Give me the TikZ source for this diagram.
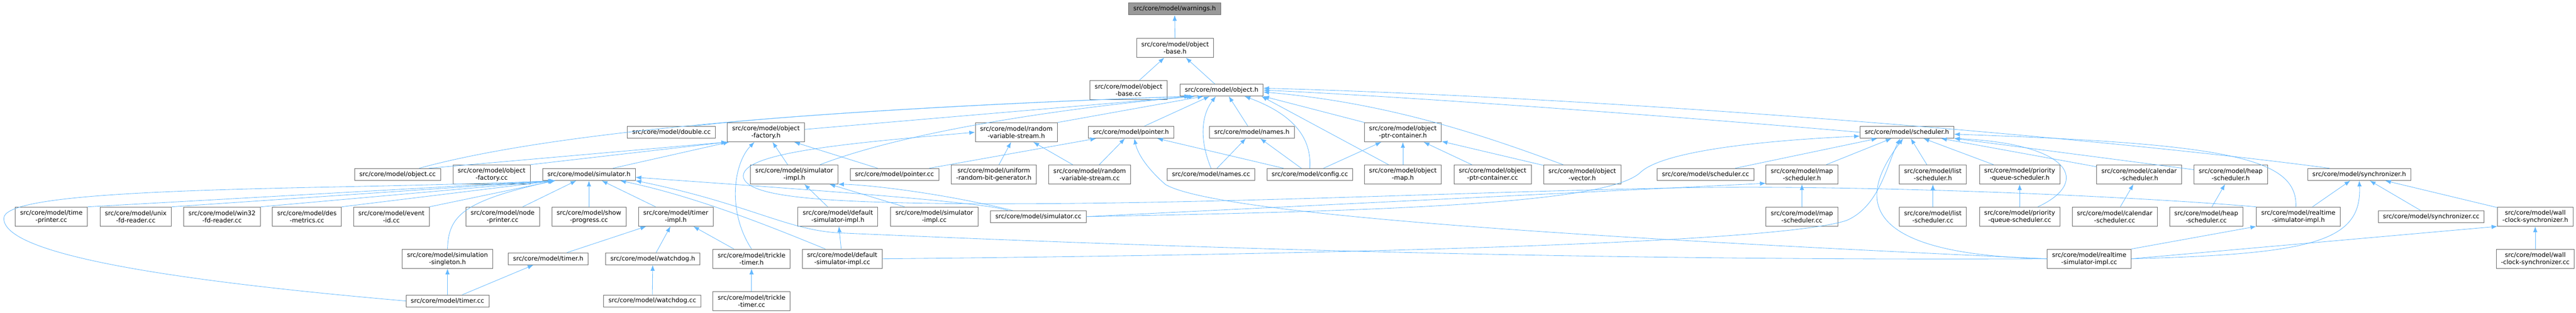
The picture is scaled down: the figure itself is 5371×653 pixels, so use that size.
\documentclass[tikz,border=0pt]{standalone}
\usepackage{fontspec}
\setmainfont{DejaVu Sans}
\usepackage{tikz}
\usetikzlibrary{arrows.meta}
\definecolor{boxline}{HTML}{666666}
\definecolor{hilite}{HTML}{999999}
\definecolor{edgeblue}{HTML}{63B8FF}
\tikzset{srcbox/.style={draw=boxline,fill=white,line width=0.9pt,font=\fontsize{13}{15}\selectfont,align=center,inner xsep=10pt,inner ysep=2pt,minimum height=25pt},twoline/.style={minimum height=40pt},curbox/.style={srcbox,fill=hilite},incl/.style={draw=edgeblue,line width=0.9pt,-{Latex[length=12pt,width=9pt]}}}
\begin{document}
\begin{tikzpicture}[x=1pt,y=-1pt]
\useasboundingbox (0,0) rectangle (5371,653);
\node[curbox] (warn) at (2449,18.5) {src/core/model/warnings.h};
\node[srcbox,twoline] (objbaseh) at (2450,100) {src/core/model/object\\-base.h};
\node[srcbox,twoline] (objbasecc) at (2353,188) {src/core/model/object\\-base.cc};
\node[srcbox] (objecth) at (2547,188) {src/core/model/object.h};
\node[srcbox] (doublecc) at (1400,276) {src/core/model/double.cc};
\node[srcbox,twoline] (objfacth) at (1597,276) {src/core/model/object\\-factory.h};
\node[srcbox,twoline] (rvsh) at (2119,276) {src/core/model/random\\-variable-stream.h};
\node[srcbox] (pointerh) at (2358,276) {src/core/model/pointer.h};
\node[srcbox] (namesh) at (2610,276) {src/core/model/names.h};
\node[srcbox,twoline] (objptrh) at (2925,276) {src/core/model/object\\-ptr-container.h};
\node[srcbox] (schedh) at (3976,276) {src/core/model/scheduler.h};
\node[srcbox] (objectcc) at (829,364) {src/core/model/object.cc};
\node[srcbox,twoline] (objfactcc) at (1025,364) {src/core/model/object\\-factory.cc};
\node[srcbox] (simh) at (1228,364) {src/core/model/simulator.h};
\node[srcbox,twoline] (simimplh) at (1656,364) {src/core/model/simulator\\-impl.h};
\node[srcbox] (pointercc) at (1865,364) {src/core/model/pointer.cc};
\node[srcbox,twoline] (urbgh) at (2072,364) {src/core/model/uniform\\-random-bit-generator.h};
\node[srcbox,twoline] (rvscc) at (2272,364) {src/core/model/random\\-variable-stream.cc};
\node[srcbox] (namescc) at (2525,364) {src/core/model/names.cc};
\node[srcbox] (configcc) at (2731,364) {src/core/model/config.cc};
\node[srcbox,twoline] (objmaph) at (2925,364) {src/core/model/object\\-map.h};
\node[srcbox,twoline] (objptrcc) at (3112,364) {src/core/model/object\\-ptr-container.cc};
\node[srcbox,twoline] (objvech) at (3299,364) {src/core/model/object\\-vector.h};
\node[srcbox] (schedcc) at (3556,364) {src/core/model/scheduler.cc};
\node[srcbox,twoline] (mapschedh) at (3757,364) {src/core/model/map\\-scheduler.h};
\node[srcbox,twoline] (listschedh) at (4030,364) {src/core/model/list\\-scheduler.h};
\node[srcbox,twoline] (pqschedh) at (4211,364) {src/core/model/priority\\-queue-scheduler.h};
\node[srcbox,twoline] (calschedh) at (4460,364) {src/core/model/calendar\\-scheduler.h};
\node[srcbox,twoline] (heapschedh) at (4651,364) {src/core/model/heap\\-scheduler.h};
\node[srcbox] (synch) at (4919,364) {src/core/model/synchronizer.h};
\node[srcbox,twoline] (timeprcc) at (107,452) {src/core/model/time\\-printer.cc};
\node[srcbox,twoline] (unixcc) at (283,452) {src/core/model/unix\\-fd-reader.cc};
\node[srcbox,twoline] (win32cc) at (463,452) {src/core/model/win32\\-fd-reader.cc};
\node[srcbox,twoline] (desmcc) at (640,452) {src/core/model/des\\-metrics.cc};
\node[srcbox,twoline] (eventidcc) at (816,452) {src/core/model/event\\-id.cc};
\node[srcbox,twoline] (nodeprcc) at (1048,452) {src/core/model/node\\-printer.cc};
\node[srcbox,twoline] (showprcc) at (1228,452) {src/core/model/show\\-progress.cc};
\node[srcbox,twoline] (timerimplh) at (1409,452) {src/core/model/timer\\-impl.h};
\node[srcbox,twoline] (defimplh) at (1747,452) {src/core/model/default\\-simulator-impl.h};
\node[srcbox,twoline] (simimplcc) at (1948,452) {src/core/model/simulator\\-impl.cc};
\node[srcbox] (simcc) at (2165,452) {src/core/model/simulator.cc};
\node[srcbox,twoline] (mapschedcc) at (3757,452) {src/core/model/map\\-scheduler.cc};
\node[srcbox,twoline] (listschedcc) at (4030,452) {src/core/model/list\\-scheduler.cc};
\node[srcbox,twoline] (pqschedcc) at (4211,452) {src/core/model/priority\\-queue-scheduler.cc};
\node[srcbox,twoline] (calschedcc) at (4409,452) {src/core/model/calendar\\-scheduler.cc};
\node[srcbox,twoline] (heapschedcc) at (4600,452) {src/core/model/heap\\-scheduler.cc};
\node[srcbox,twoline] (rtimplh) at (4792,452) {src/core/model/realtime\\-simulator-impl.h};
\node[srcbox] (synccc) at (5069,452) {src/core/model/synchronizer.cc};
\node[srcbox,twoline] (wallh) at (5286,452) {src/core/model/wall\\-clock-synchronizer.h};
\node[srcbox,twoline] (singletonh) at (933,540) {src/core/model/simulation\\-singleton.h};
\node[srcbox] (timerh) at (1143,540) {src/core/model/timer.h};
\node[srcbox] (watchdogh) at (1361,540) {src/core/model/watchdog.h};
\node[srcbox,twoline] (trickleh) at (1567,540) {src/core/model/trickle\\-timer.h};
\node[srcbox,twoline] (defimplcc) at (1756,540) {src/core/model/default\\-simulator-impl.cc};
\node[srcbox,twoline] (rtimplcc) at (4356,540) {src/core/model/realtime\\-simulator-impl.cc};
\node[srcbox,twoline] (wallcc) at (5286,540) {src/core/model/wall\\-clock-synchronizer.cc};
\node[srcbox] (timercc) at (933,628) {src/core/model/timer.cc};
\node[srcbox] (watchdogcc) at (1360,628) {src/core/model/watchdog.cc};
\node[srcbox,twoline] (tricklecc) at (1567,628) {src/core/model/trickle\\-timer.cc};
\draw[incl] (objbaseh) -- (warn);
\draw[incl] (objbasecc) -- (objbaseh);
\draw[incl] (objecth) -- (objbaseh);
\draw[incl] ([xshift=-45pt]objectcc.north east) .. controls (1150,275) and (1700,228) .. ([xshift=-66pt]objecth.south);
\draw[incl] ([xshift=-45pt]doublecc.north east) .. controls (1650,238) and (2150,212) .. ([xshift=-64pt]objecth.south);
\draw[incl] ([yshift=6pt]objfacth.east) -- ([xshift=-60pt]objecth.south);
\draw[incl] ([xshift=54pt]simimplh.north) .. controls (1900,270) and (2250,222) .. ([xshift=-56pt]objecth.south);
\draw[incl] (rvsh.north east) -- ([xshift=-38pt]objecth.south);
\draw[incl] (pointerh) -- ([xshift=-25pt]objecth.south);
\draw[incl] (namescc.north) .. controls (2500,290) and (2505,240) .. ([xshift=-12pt]objecth.south);
\draw[incl] (namesh) -- ([xshift=15pt]objecth.south);
\draw[incl] (configcc.north) .. controls (2735,290) and (2700,240) .. ([xshift=48pt]objecth.south);
\draw[incl] ([xshift=-80pt]objptrh.north) -- (objecth.south east);
\draw[incl] ([xshift=-30pt]objmaph.north) -- ([xshift=-4pt]objecth.south east);
\draw[incl] ([xshift=-40pt]objvech.north) .. controls (3100,285) and (2900,215) .. ([yshift=-4pt]objecth.east);
\draw[incl] (schedh.west) .. controls (3600,252) and (3000,205) .. (objecth.east);
\draw[incl] ([xshift=-62pt]synch.north) .. controls (4400,290) and (3400,205) .. ([yshift=4pt]objecth.east);
\draw[incl] ([xshift=-25pt]objectcc.north east) -- (objfacth.south west);
\draw[incl] (objfactcc.north east) -- (objfacth.south west);
\draw[incl] ([xshift=50pt]simh.north) -- ([xshift=4pt]objfacth.south west);
\draw[incl] (trickleh.north) .. controls (1515,440) and (1530,340) .. ([xshift=-24pt]objfacth.south);
\draw[incl] (simimplh) -- (objfacth);
\draw[incl] ([xshift=-35pt]pointercc.north) -- ([xshift=-22pt]objfacth.south east);
\draw[incl] (urbgh) -- (rvsh);
\draw[incl] (rvscc) -- (rvsh);
\draw[incl] (rtimplh.north west) .. controls (4450,410) and (3900,385) .. (3500,392) .. controls (3000,402) and (2500,428) .. (2000,425) .. controls (1700,422) and (1560,410) .. (1550,370) .. controls (1542,320) and (1750,300) .. (rvsh.west);
\draw[incl] (pointercc) -- (pointerh);
\draw[incl] (rvscc) -- (pointerh);
\draw[incl] (configcc) -- (pointerh);
\draw[incl] (rtimplcc.west) .. controls (3500,505) and (2550,455) .. (2430,385) .. controls (2390,350) and (2372,320) .. ([xshift=7pt]pointerh.south);
\draw[incl] (namescc) -- (namesh);
\draw[incl] (configcc) -- (namesh);
\draw[incl] (configcc) -- (objptrh);
\draw[incl] (objmaph) -- (objptrh);
\draw[incl] (objptrcc) -- (objptrh);
\draw[incl] (objvech) -- (objptrh);
\draw[incl] (schedcc) -- (schedh);
\draw[incl] (mapschedh) -- (schedh);
\draw[incl] (listschedh) -- (schedh);
\draw[incl] (pqschedh) -- (schedh);
\draw[incl] (calschedh) -- (schedh);
\draw[incl] (heapschedh) -- (schedh);
\draw[incl] (simcc.east) .. controls (2900,440) and (3350,425) .. (3420,360) .. controls (3470,312) and (3700,292) .. ([yshift=-8pt]schedh.west);
\draw[incl] (defimplcc.east) .. controls (2700,532) and (3700,510) .. (3850,460) .. controls (3920,430) and (3935,340) .. ([xshift=-14pt]schedh.south);
\draw[incl] (rtimplcc.west) .. controls (3820,530) and (3900,380) .. ([xshift=-8pt]schedh.south);
\draw[incl] ([xshift=-5pt]rtimplh.north) .. controls (4790,330) and (4650,300) .. ([yshift=-4pt]schedh.east);
\draw[incl] ([xshift=38pt]pqschedcc.north) .. controls (4360,380) and (4320,300) .. (schedh.south east);
\draw[incl] (simcc.east) -- ([yshift=2pt]mapschedh.south west);
\draw[incl] (mapschedcc) -- (mapschedh);
\draw[incl] (listschedcc) -- (listschedh);
\draw[incl] (pqschedcc) -- (pqschedh);
\draw[incl] (calschedcc) -- (calschedh);
\draw[incl] (heapschedcc) -- (heapschedh);
\draw[incl] (rtimplh) -- (synch);
\draw[incl] (rtimplcc.east) .. controls (4820,530) and (4925,505) .. (synch.south);
\draw[incl] (synccc) -- (synch);
\draw[incl] (wallh) -- (synch);
\draw[incl] (wallcc) -- (wallh);
\draw[incl] (rtimplcc.east) -- (wallh.south west);
\draw[incl] (rtimplcc.north east) -- (rtimplh.south west);
\draw[incl] (timeprcc.north east) -- ([xshift=27pt]simh.south west);
\draw[incl] (unixcc.north east) -- ([xshift=27pt]simh.south west);
\draw[incl] (win32cc.north east) -- ([xshift=27pt]simh.south west);
\draw[incl] (desmcc.north east) -- ([xshift=27pt]simh.south west);
\draw[incl] (eventidcc.north east) -- ([xshift=27pt]simh.south west);
\draw[incl] (singletonh.north) .. controls (935,450) and (965,420) .. ([xshift=24pt]simh.south west);
\draw[incl] (timercc.west) .. controls (350,585) and (5,530) .. (8,455) .. controls (10,410) and (300,398) .. (700,390) .. controls (950,385) and (1100,380) .. ([xshift=24pt]simh.south west);
\draw[incl] (nodeprcc) -- (simh);
\draw[incl] (showprcc) -- (simh);
\draw[incl] (timerimplh) -- (simh);
\draw[incl] ([xshift=-35pt]defimplcc.north) .. controls (1600,470) and (1450,410) .. ([xshift=65pt]simh.south);
\draw[incl] (rtimplcc.west) .. controls (3200,545) and (2300,510) .. (1750,486) .. controls (1640,480) and (1560,425) .. (simh.south east);
\draw[incl] ([xshift=-64pt]simcc.north) .. controls (2050,420) and (1600,390) .. ([yshift=-6pt]simh.east);
\draw[incl] (defimplh) -- (simimplh);
\draw[incl] ([xshift=-62pt]simimplcc.north) -- ([xshift=-18pt]simimplh.south east);
\draw[incl] ([xshift=-54pt]simcc.north) .. controls (1950,400) and (1800,385) .. (simimplh.south east);
\draw[incl] (timerh) -- (timerimplh);
\draw[incl] (watchdogh) -- (timerimplh);
\draw[incl] (trickleh) -- (timerimplh);
\draw[incl] (timercc) -- (timerh);
\draw[incl] (timercc) -- (singletonh);
\draw[incl] (watchdogcc) -- (watchdogh);
\draw[incl] (tricklecc) -- (trickleh);
\draw[incl] (defimplcc) -- (defimplh);
\end{tikzpicture}
\end{document}
